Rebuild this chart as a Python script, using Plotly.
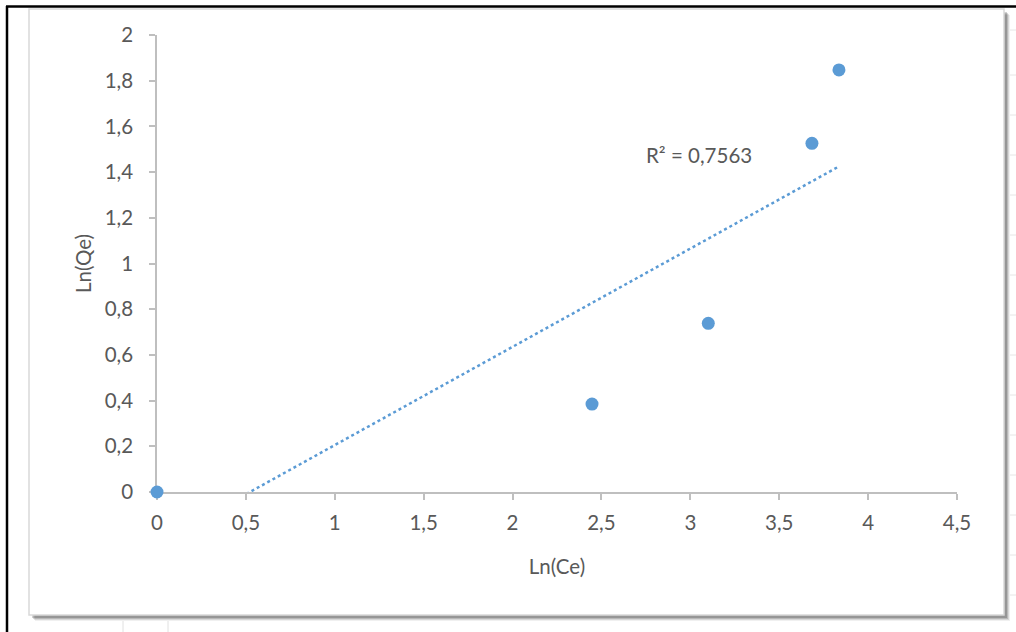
import numpy as np
import plotly.graph_objects as go

# Data
ln_ce = [0.0, 2.447, 3.101, 3.684, 3.836]
ln_qe = [0.0, 0.385, 0.738, 1.526, 1.847]
r2_label = "R² = 0,7563"
x_title = "Ln(Ce)"
y_title = "Ln(Qe)"

W, H = 1016, 632
L, R, T, B = 157, 957, 35, 492  # plot area in pixels

def px(x):
    return (x - L) / (R - L)

def py(y):
    return (B - y) / (B - T)

blue = "#5b9bd5"
grey_txt = "#595959"
font_family = "Lato, 'Open Sans', sans-serif"
fs = 20.5

# linear trendline fitted to the data
b, a = np.polyfit(ln_ce, ln_qe, 1)
tx = [min(ln_ce), max(ln_ce)]
ty = [a + b * v for v in tx]

fig = go.Figure()
fig.add_trace(go.Scatter(x=tx, y=ty, mode="lines",
                         line=dict(color=blue, width=2.5, dash="dot"),
                         showlegend=False, hoverinfo="skip"))
fig.add_trace(go.Scatter(x=ln_ce, y=ln_qe, mode="markers",
                         marker=dict(color=blue, size=13),
                         cliponaxis=False, showlegend=False))

shapes = []
# shadow of the chart frame
for off, col in [(6, "rgba(0,0,0,0.06)"), (5, "rgba(0,0,0,0.10)"), (4, "rgba(0,0,0,0.14)"), (3, "rgba(0,0,0,0.18)")]:
    shapes.append(dict(type="rect", xref="paper", yref="paper", layer="below",
                       x0=px(29 + off), x1=px(1004 + off), y0=py(9 + off), y1=py(615 + off),
                       fillcolor=col, line=dict(width=0)))
# chart frame
shapes.append(dict(type="rect", xref="paper", yref="paper", layer="below",
                   x0=px(29), x1=px(1004), y0=py(9), y1=py(615),
                   fillcolor="white", line=dict(color="#d9d9d9", width=1.5)))
# outer black border (top and left)
shapes.append(dict(type="line", xref="paper", yref="paper",
                   x0=px(6), x1=px(1016), y0=py(6.5), y1=py(6.5),
                   line=dict(color="black", width=2.5)))
shapes.append(dict(type="line", xref="paper", yref="paper",
                   x0=px(7), x1=px(7), y0=py(6), y1=py(632),
                   line=dict(color="black", width=2.5)))
# spreadsheet cell lines peeking around the frame
for yy in [30, 75, 115, 155, 195, 235, 275, 315, 355, 395, 435, 475, 515, 555, 595]:
    shapes.append(dict(type="line", xref="paper", yref="paper", layer="below",
                       x0=px(1010), x1=px(1016), y0=py(yy), y1=py(yy),
                       line=dict(color="#e6e6e6", width=1)))
for xx in [123, 168]:
    shapes.append(dict(type="line", xref="paper", yref="paper", layer="below",
                       x0=px(xx), x1=px(xx), y0=py(621), y1=py(632),
                       line=dict(color="#e0e0e0", width=1)))

fig.update_layout(
    width=W, height=H,
    margin=dict(l=L, r=W - R, t=T, b=H - B, pad=0),
    paper_bgcolor="white", plot_bgcolor="rgba(0,0,0,0)",
    separators=", ",
    font=dict(family=font_family, color=grey_txt, size=fs),
    shapes=shapes,
    annotations=[dict(text=r2_label, x=3.05, y=1.475, xref="x", yref="y",
                      showarrow=False, xanchor="center", yanchor="middle",
                      font=dict(size=fs, color=grey_txt, family=font_family))],
)
fig.update_xaxes(range=[0, 4.5], dtick=0.5, tick0=0, showgrid=False, zeroline=False,
                 showline=True, linecolor="#bfbfbf", linewidth=1.5, layer="below traces",
                 ticks="outside", ticklen=6, tickcolor="#bfbfbf", tickwidth=1.5,
                 tickfont=dict(size=fs, color=grey_txt), ticklabelstandoff=6,
                 title=dict(text=x_title, font=dict(size=fs, color=grey_txt), standoff=26))
fig.update_yaxes(range=[0, 2], dtick=0.2, tick0=0, showgrid=False, zeroline=False,
                 showline=True, linecolor="#bfbfbf", linewidth=1.5, layer="below traces",
                 ticks="outside", ticklen=6, tickcolor="#bfbfbf", tickwidth=1.5,
                 tickfont=dict(size=fs, color=grey_txt), ticklabelstandoff=12,
                 title=dict(text=y_title, font=dict(size=fs, color=grey_txt), standoff=8))

fig.write_html("out.html", config={"displayModeBar": False},
               post_script="document.body.style.margin='0';")
